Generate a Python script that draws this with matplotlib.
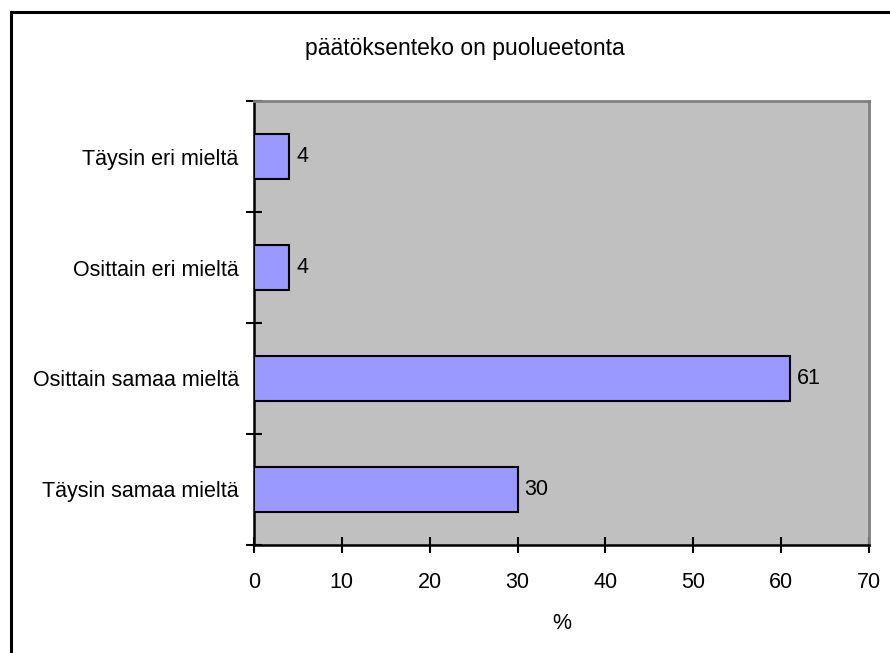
import matplotlib
matplotlib.use("Agg")
import matplotlib.pyplot as plt
from matplotlib.patches import Rectangle

plt.rcParams['font.family'] = ['Liberation Sans', 'DejaVu Sans']

categories = ["Täysin samaa mieltä", "Osittain samaa mieltä",
              "Osittain eri mieltä", "Täysin eri mieltä"]
values = [30, 61, 4, 4]
x_ticks = [0, 10, 20, 30, 40, 50, 60, 70]
title = "päätöksenteko on puolueetonta"
x_label = "%"

W, H = 890, 653
fig = plt.figure(figsize=(W / 100, H / 100), dpi=100)

# outer chart frame (left and top edges visible)
fig.add_artist(Rectangle((10.5 / W, -0.1), 2.0, 1.1 - 12.5 / H,
                         transform=fig.transFigure, fill=False,
                         edgecolor="black", linewidth=2.2))

left, right, top, bottom = 254, 869, 101, 545
ax = fig.add_axes([left / W, 1 - bottom / H, (right - left) / W, (bottom - top) / H])
ax.set_facecolor("#C0C0C0")

pos = list(range(len(categories)))
ax.barh(pos, values, height=0.41, color="#9999FF",
        edgecolor="black", linewidth=1.5, zorder=3)
for p, v in zip(pos, values):
    ax.text(v + 0.8, p, f"{v}", va="center", ha="left", fontsize=15.5)

ax.set_xlim(0, 70)
ax.set_ylim(-0.5, len(categories) - 0.5)
ax.set_xticks(x_ticks)
ax.set_xticklabels([str(t) for t in x_ticks], fontsize=15.5)
ax.set_yticks(pos)
ax.set_yticklabels(categories, fontsize=15.5)
ax.set_yticks([i - 0.5 for i in range(len(categories) + 1)], minor=True)
ax.tick_params(axis="y", which="major", length=0, pad=11)
ax.tick_params(axis="y", which="minor", length=11, width=1.5, direction="inout")
ax.tick_params(axis="x", which="major", length=11, width=1.5, direction="inout", pad=14)

for side in ("top", "right"):
    ax.spines[side].set_color("#808080")
    ax.spines[side].set_linewidth(2)
for side in ("left", "bottom"):
    ax.spines[side].set_color("black")
    ax.spines[side].set_linewidth(1.8)

ax.set_xlabel(x_label, fontsize=15.5, labelpad=14)
fig.text(465 / W, 1 - 48 / H, title, ha="center", va="center", fontsize=16.5)

fig.savefig("out.png", dpi=100)
